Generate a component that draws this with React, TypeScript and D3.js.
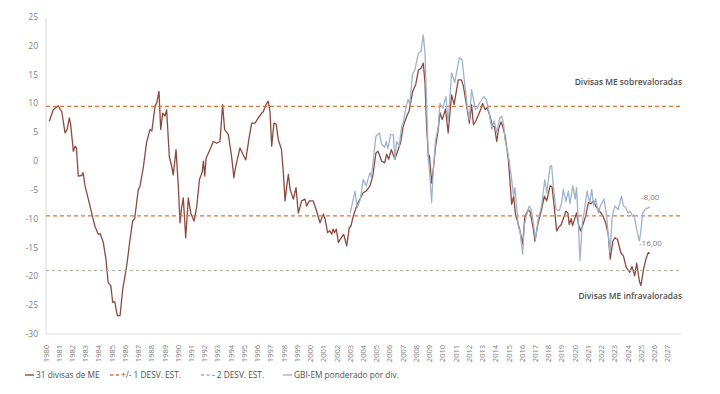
import React from 'react';
import * as d3 from 'd3';

const WIDTH = 720;
const HEIGHT = 394;

// 31 divisas de ME (decimal year, value)
const brownYears = [
    1980.25, 1980.55, 1980.75, 1980.93, 1981.06, 1981.19, 1981.44, 1981.6, 1981.76, 1981.86,
    1982.07, 1982.2, 1982.3, 1982.44, 1982.7, 1982.8, 1982.95, 1983.2, 1983.45, 1983.7,
    1983.95, 1984.1, 1984.33, 1984.53, 1984.7, 1984.9, 1985.04, 1985.2, 1985.39, 1985.6,
    1985.8, 1986.1, 1986.35, 1986.55, 1986.7, 1986.98, 1987.1, 1987.35, 1987.6, 1987.86,
    1988.0, 1988.24, 1988.37, 1988.54, 1988.67, 1988.82, 1988.99, 1989.12, 1989.32, 1989.5,
    1989.62, 1989.83, 1990.0, 1990.13, 1990.25, 1990.38, 1990.56, 1990.76, 1990.94, 1991.05,
    1991.19, 1991.4, 1991.6, 1991.8, 1991.9, 1992.0, 1992.1, 1992.4, 1992.65, 1992.9,
    1993.15, 1993.35, 1993.5, 1993.78, 1994.03, 1994.2, 1994.3, 1994.66, 1994.9, 1995.1,
    1995.37, 1995.55, 1995.8, 1996.05, 1996.3, 1996.43, 1996.63, 1996.8, 1996.93, 1997.06,
    1997.23, 1997.4, 1997.56, 1997.8, 1997.95, 1998.07, 1998.2, 1998.32, 1998.45, 1998.7,
    1998.9, 1999.07, 1999.33, 1999.58, 1999.7, 1999.9, 2000.2, 2000.46, 2000.71, 2000.96,
    2001.1, 2001.29, 2001.45, 2001.6, 2001.7, 2001.8, 2001.95, 2002.1, 2002.35, 2002.5,
    2002.73, 2002.93, 2003.05, 2003.23, 2003.48, 2003.7, 2003.98, 2004.2, 2004.49, 2004.7,
    2004.94, 2005.1, 2005.37, 2005.6, 2005.75, 2005.9, 2006.1, 2006.37, 2006.55, 2006.8,
    2007.0, 2007.27, 2007.45, 2007.72, 2007.95, 2008.15, 2008.35, 2008.52, 2008.65, 2008.77,
    2008.9, 2008.98, 2009.15, 2009.3, 2009.45, 2009.65, 2009.78, 2009.95, 2010.2, 2010.4,
    2010.66, 2010.85, 2011.16, 2011.4, 2011.55, 2011.8, 2012.0, 2012.17, 2012.31, 2012.5,
    2012.85, 2013.0, 2013.2, 2013.35, 2013.56, 2013.75, 2013.9, 2014.07, 2014.2, 2014.4,
    2014.55, 2014.7, 2014.95, 2015.2, 2015.35, 2015.5, 2015.6, 2015.8, 2016.03, 2016.2,
    2016.46, 2016.6, 2016.84, 2016.96, 2017.2, 2017.46, 2017.67, 2017.85, 2018.1, 2018.25,
    2018.4, 2018.6, 2018.75, 2018.95, 2019.3, 2019.45, 2019.55, 2019.7, 2019.8, 2020.1,
    2020.25, 2020.4, 2020.55, 2020.8, 2021.0, 2021.2, 2021.4, 2021.55, 2021.75, 2022.1,
    2022.3, 2022.5, 2022.65, 2022.85, 2023.0, 2023.2, 2023.45, 2023.65, 2023.87, 2024.13,
    2024.3, 2024.5, 2024.65, 2024.85, 2024.97, 2025.17, 2025.35, 2025.52, 2025.65,
];
const brownValues = [
    6.9, 8.9, 9.3, 9.6, 9.0, 8.6, 4.9, 5.5, 7.5, 6.4,
    1.7, 2.6, 2.3, -2.6, -2.5, -2.0, -4.3, -6.6, -9.0, -11.3,
    -12.7, -12.6, -14.1, -17.0, -21.1, -21.6, -24.5, -24.4, -26.8, -26.8,
    -22.2, -18.2, -13.6, -10.4, -10.0, -4.9, -4.4, -1.2, 3.2, 5.5,
    5.2, 9.5, 10.1, 12.1, 5.5, 8.3, 7.8, 8.9, 0.8, -0.9,
    -2.4, 2.0, -4.3, -10.7, -8.1, -6.4, -13.3, -6.4, -9.0, -9.6,
    -10.4, -7.8, -3.2, -2.0, 0.0, -2.6, 0.5, 2.0, 3.4, 3.1,
    3.4, 9.8, 5.5, 4.6, 0.8, -2.9, -1.4, 2.3, 1.1, 0.2,
    4.3, 6.6, 6.6, 7.5, 8.3, 8.6, 9.8, 10.4, 8.6, 2.6,
    6.6, 6.4, 3.7, 2.0, -2.3, -6.9, -4.3, -2.3, -4.9, -6.6,
    -4.6, -9.0, -6.9, -6.6, -7.8, -6.9, -6.9, -8.7, -10.7, -9.2,
    -10.1, -12.4, -12.1, -12.7, -11.8, -12.4, -11.8, -14.1, -13.2, -12.7,
    -14.7, -11.5, -11.3, -9.5, -7.8, -6.7, -5.5, -5.2, -4.3, -2.6,
    1.4, 1.7, 0.0, -0.3, 1.2, 0.3, 2.0, 0.3, 1.5, 3.2,
    6.0, 7.8, 8.7, 12.1, 13.3, 15.8, 16.1, 17.0, 13.6, 6.1,
    0.8, 1.0, -3.8, -0.9, 2.6, 5.5, 8.4, 7.2, 9.0, 4.9,
    11.5, 9.8, 14.1, 14.1, 13.0, 9.5, 6.6, 9.8, 6.3, 7.0,
    8.9, 10.0, 8.9, 9.3, 7.8, 6.1, 6.0, 3.4, 5.5, 6.8,
    5.8, 4.4, 0.3, -7.5, -6.1, -9.5, -10.1, -11.8, -14.4, -9.6,
    -8.4, -8.8, -11.8, -13.9, -10.7, -8.4, -6.1, -6.9, -4.3, -4.5,
    -7.5, -12.1, -11.5, -11.0, -8.7, -9.0, -11.0, -10.0, -11.2, -9.0,
    -11.0, -12.1, -11.3, -9.5, -7.2, -7.4, -6.9, -7.8, -8.4, -9.5,
    -10.7, -12.7, -17.0, -13.9, -13.3, -13.6, -15.9, -16.5, -18.5, -19.3,
    -18.3, -19.9, -17.7, -20.8, -21.6, -18.8, -17.0, -15.9, -16.0,
];

// GBI-EM ponderado por div. (decimal year, value)
const blueYears = [
    2003.0, 2003.36, 2003.53, 2003.75, 2003.98, 2004.2, 2004.49, 2004.6, 2004.94, 2005.2,
    2005.37, 2005.6, 2005.72, 2005.85, 2006.05, 2006.25, 2006.37, 2006.5, 2006.7, 2006.88,
    2007.0, 2007.2, 2007.37, 2007.5, 2007.7, 2007.88, 2008.15, 2008.35, 2008.52, 2008.65,
    2008.77, 2008.9, 2009.02, 2009.15, 2009.28, 2009.45, 2009.65, 2009.78, 2010.0, 2010.23,
    2010.4, 2010.66, 2010.9, 2011.0, 2011.24, 2011.45, 2011.67, 2011.84, 2012.0, 2012.17,
    2012.3, 2012.45, 2012.6, 2012.75, 2012.93, 2013.1, 2013.3, 2013.5, 2013.7, 2013.88,
    2014.07, 2014.3, 2014.45, 2014.6, 2014.7, 2014.95, 2015.2, 2015.35, 2015.45, 2015.7,
    2015.85, 2016.03, 2016.15, 2016.3, 2016.53, 2016.68, 2016.8, 2017.0, 2017.2, 2017.46,
    2017.7, 2017.85, 2018.1, 2018.22, 2018.35, 2018.55, 2018.8, 2018.98, 2019.1, 2019.3,
    2019.48, 2019.6, 2019.82, 2020.0, 2020.1, 2020.24, 2020.36, 2020.55, 2020.7, 2020.9,
    2021.1, 2021.25, 2021.4, 2021.55, 2021.75, 2021.9, 2022.18, 2022.38, 2022.46, 2022.64,
    2022.8, 2023.0, 2023.25, 2023.5, 2023.65, 2023.8, 2024.0, 2024.15, 2024.35, 2024.45,
    2024.6, 2024.85, 2024.97, 2025.1, 2025.35, 2025.63,
];
const blueValues = [
    -9.0, -5.2, -8.1, -6.7, -3.2, -4.3, -2.0, -2.8, 4.3, 4.9,
    2.9, 2.4, 3.4, 2.2, 4.6, 4.6, 0.3, 3.4, 2.6, 6.0,
    6.6, 9.2, 10.7, 9.8, 15.0, 15.8, 18.7, 19.0, 21.9, 18.7,
    10.0, 0.3, -2.6, -7.2, -1.4, 3.7, 6.0, 10.0, 9.2, 11.2,
    6.6, 15.3, 13.6, 15.0, 17.9, 17.6, 13.0, 9.5, 7.2, 12.4,
    10.9, 9.0, 9.2, 10.0, 10.6, 11.2, 10.6, 8.3, 5.5, 7.0,
    4.9, 7.5, 7.8, 6.3, 3.7, 1.0, -3.2, -6.1, -4.6, -11.3,
    -12.4, -16.2, -11.3, -9.6, -7.8, -8.4, -10.1, -13.6, -10.1, -7.8,
    -3.2, -5.5, -0.9, -0.8, -4.3, -8.4, -8.6, -7.2, -4.9, -7.0,
    -5.2, -7.4, -4.3, -6.6, -4.6, -10.7, -17.3, -10.4, -8.7, -5.2,
    -7.2, -4.9, -7.8, -6.5, -9.0, -7.8, -6.6, -9.5, -11.8, -15.9,
    -9.6, -7.8, -8.4, -6.1, -7.8, -8.0, -9.0, -8.7, -9.6, -9.3,
    -11.3, -13.9, -12.1, -9.0, -8.3, -8.0,
];

const plusOneSd = 9.5;
const minusOneSd = -9.5;
const minusTwoSd = -19;

const yTicks = [25, 20, 15, 10, 5, 0, -5, -10, -15, -20, -25, -30];
const yearLabels = d3.range(1980, 2028);

const legendItems = [
    {label: '31 divisas de ME', color: '#8c4a3f', dash: '', x: 25},
    {label: '+/- 1 DESV. EST.', color: '#d9773a', dash: '3.5,2.5', x: 110},
    {label: '- 2 DESV. EST.', color: '#a9ad9c', dash: '3,2.5', x: 201},
    {label: 'GBI-EM ponderado por div.', color: '#a3b5cc', dash: '', x: 283},
];

const FONT = '"Open Sans", "Noto Sans", sans-serif';

const App = () => {
    const plot = {left: 46, right: 681, top: 17, bottom: 334};

    const x = d3.scaleLinear().domain([1980, 2028]).range([plot.left, plot.right]);
    const y = d3.scaleLinear().domain([25, -30]).range([plot.top, plot.bottom]);

    const line = d3.line<[number, number]>()
        .x(d => x(d[0]))
        .y(d => y(d[1]));

    const brownPath = line(brownYears.map((yr, i) => [yr, brownValues[i]]));
    const bluePath = line(blueYears.map((yr, i) => [yr, blueValues[i]]));

    const lastBlue = blueValues[blueValues.length - 1];
    const lastBrown = brownValues[brownValues.length - 1];

    const fmt = (v: number) => v.toFixed(2).replace('.', ',');

    return (
        <svg width={WIDTH} height={HEIGHT}
             style={{position: 'absolute', top: 0, left: 0, background: '#fff', fontFamily: FONT}}>
            {/* axes */}
            <line x1={plot.left} x2={plot.left} y1={plot.top} y2={plot.bottom} stroke="#d9d9d9" />
            <line x1={plot.left} x2={plot.right} y1={plot.bottom} y2={plot.bottom} stroke="#d9d9d9" />

            {yTicks.map(t => (
                <text key={t} x={38} y={y(t)} dy="0.35em" textAnchor="end" fontSize={8.5} fill="#808080">
                    {t}
                </text>
            ))}

            {yearLabels.map(yr => (
                <text key={yr}
                      transform={`translate(${x(yr) + 2.5},345) rotate(-90)`}
                      textAnchor="end" fontSize={7.5} fill="#808080">
                    {yr}
                </text>
            ))}

            {/* series */}
            <path d={brownPath ?? ''} fill="none" stroke="#8c4a3f" strokeWidth={1.3} strokeLinejoin="round" />

            <line x1={plot.left} x2={plot.right} y1={y(plusOneSd)} y2={y(plusOneSd)}
                  stroke="#d9773a" strokeWidth={1.4} strokeDasharray="4,3" />
            <line x1={plot.left} x2={plot.right} y1={y(minusOneSd)} y2={y(minusOneSd)}
                  stroke="#d9773a" strokeWidth={1.4} strokeDasharray="4,3" />
            <line x1={plot.left} x2={plot.right} y1={y(minusTwoSd)} y2={y(minusTwoSd)}
                  stroke="#a9ad9c" strokeWidth={1} strokeDasharray="3,3" />

            <path d={bluePath ?? ''} fill="none" stroke="#9fb3cd" strokeWidth={1.3} strokeLinejoin="round" />

            {/* annotations */}
            <text x={682} y={82} dy="0.35em" textAnchor="end" fontSize={8.4} fontWeight={600} fill="#505050">
                Divisas ME sobrevaloradas
            </text>
            <text x={682} y={296} dy="0.35em" textAnchor="end" fontSize={8.4} fontWeight={600} fill="#505050">
                Divisas ME infravaloradas
            </text>
            <text x={641} y={197} dy="0.35em" fontSize={8} fill="#808080">{fmt(lastBlue)}</text>
            <text x={639} y={243.5} dy="0.35em" fontSize={8} fill="#808080">{fmt(lastBrown)}</text>

            {/* legend */}
            {legendItems.map(item => (
                <g key={item.label} transform={`translate(${item.x},375)`}>
                    <line x1={0} x2={9} y1={0} y2={0} stroke={item.color} strokeWidth={1.4}
                          strokeDasharray={item.dash || undefined} />
                    <text x={11} y={0} dy="0.35em" fontSize={8.3} fill="#505050">{item.label}</text>
                </g>
            ))}
        </svg>
    );
};

export default App;
